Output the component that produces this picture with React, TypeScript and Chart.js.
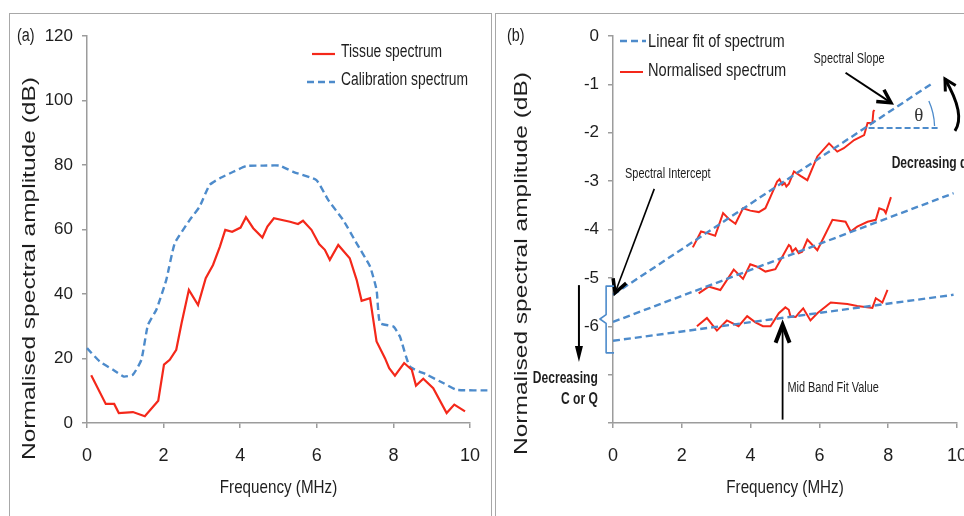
import React, { useEffect, useRef } from 'react';
import { Chart, registerables } from 'chart.js';
Chart.register(...registerables);

// ---------- data: panel (a) ----------
const tissueFreq = [0.11, 0.49, 0.71, 0.83, 1.2, 1.51, 1.86, 2.01, 2.16, 2.33, 2.47, 2.66, 2.9, 3.1, 3.29, 3.47, 3.61, 3.79, 4.01, 4.15, 4.34, 4.58, 4.71, 4.88, 5.3, 5.51, 5.64, 5.86, 6.06, 6.21, 6.34, 6.56, 6.86, 7.04, 7.17, 7.39, 7.56, 7.78, 7.89, 8.04, 8.28, 8.48, 8.59, 8.78, 9.04, 9.39, 9.59, 9.87];
const tissueAmp = [14.8, 5.9, 5.9, 3.1, 3.4, 2.1, 6.9, 18.1, 19.6, 22.7, 31, 41.3, 36.6, 44.9, 49, 54.7, 59.9, 59.3, 60.6, 63.8, 60.4, 57.5, 60.9, 63.5, 62.4, 61.7, 62.7, 59.9, 55.5, 53.7, 50.6, 55.2, 51.1, 44.4, 37.9, 38.7, 25.3, 20.1, 17, 14.7, 18.6, 16.5, 11.6, 13.7, 10.8, 3.1, 5.7, 3.6];
const calibFreq = [0, 0.33, 0.68, 0.96, 1.2, 1.42, 1.59, 1.81, 2.07, 2.29, 2.68, 2.94, 3.2, 3.47, 3.82, 4.16, 4.6, 5.03, 5.38, 5.99, 6.3, 6.69, 7.04, 7.39, 7.56, 7.65, 8.0, 8.17, 8.43, 8.87, 9.3, 9.65, 10.52];
const calibAmp = [23.2, 19.1, 16.5, 14.4, 15, 19.6, 30.4, 35.1, 44.4, 55.7, 62.9, 67.1, 73.8, 75.9, 77.9, 79.7, 79.8, 79.8, 77.9, 75.3, 69.1, 62.9, 55.7, 48.5, 41.3, 31, 29.9, 26.8, 17.5, 15, 12.4, 10.3, 10.1];
const leftXTicks = { min: 0, max: 10, step: 2 };
const leftYTicks = { min: 0, max: 120, step: 20 };

// ---------- data: panel (b) ----------
const topFreq = [2.32, 2.56, 2.76, 2.97, 3.2, 3.38, 3.56, 3.78, 3.99, 4.24, 4.43, 4.58, 4.77, 4.84, 4.92, 4.99, 5.04, 5.11, 5.26, 5.45, 5.65, 5.94, 6.28, 6.52, 6.71, 7.01, 7.3, 7.4, 7.54, 7.57, 7.6];
const topVal = [-4.37, -4.04, -4.08, -4.13, -3.66, -3.79, -3.88, -3.56, -3.61, -3.64, -3.56, -3.32, -3.01, -2.96, -3.08, -3.04, -3.11, -3.06, -2.8, -2.89, -2.98, -2.49, -2.22, -2.39, -2.32, -2.15, -2.05, -1.8, -1.8, -1.56, -1.53];
const midFreq = [2.49, 2.78, 2.92, 3.12, 3.51, 3.78, 3.99, 4.19, 4.43, 4.72, 4.87, 5.11, 5.16, 5.21, 5.31, 5.4, 5.5, 5.65, 5.94, 6.38, 6.76, 6.91, 7.1, 7.4, 7.64, 7.74, 7.88, 7.93, 8.08];
const midVal = [-5.32, -5.18, -5.21, -5.25, -4.83, -5.02, -4.72, -4.77, -4.87, -4.82, -4.63, -4.32, -4.35, -4.46, -4.39, -4.49, -4.46, -4.21, -4.43, -3.8, -3.84, -4.04, -3.94, -3.84, -3.8, -3.56, -3.6, -3.66, -3.33];
const botFreq = [2.44, 2.73, 3.02, 3.31, 3.65, 3.9, 4.14, 4.36, 4.58, 4.82, 5.01, 5.11, 5.16, 5.31, 5.4, 5.53, 5.74, 5.94, 6.33, 6.81, 7.1, 7.54, 7.64, 7.83, 7.98];
const botVal = [-6, -5.83, -6.09, -5.88, -6, -5.79, -5.92, -6, -6, -5.73, -5.61, -5.66, -5.8, -5.81, -5.73, -5.63, -5.88, -5.73, -5.51, -5.54, -5.58, -5.62, -5.42, -5.51, -5.25];
const fitStartFreq = [0, 0, 0];
const fitStartVal = [-5.35, -5.91, -6.3];
const fitEndFreq = [9.3, 9.9, 9.9];
const fitEndVal = [-0.97, -3.25, -5.35];
const slopeRefFreq = [7.43, 9.48];
const slopeRefVal = [-1.9, -1.9];
const rightXTicks = { min: 0, max: 10, step: 2 };
const rightYTicks = { min: -8, max: 0, step: 1, lowestLabel: -6 };

// ---------- styles ----------
const SANS = "'Liberation Sans', Arial, sans-serif";
const NX = 0.8; // horizontal squeeze that imitates a narrow face
const RED = '#F4281A';
const BLUE = '#4D8BCB';
const AXIS = '#9C9C9C';
const INK = '#1E1E1E';
const DASH = [7, 4];

const pts = (xs: number[], ys: number[]) => xs.map((x, i) => ({ x, y: ys[i] }));

function drawText(ctx: CanvasRenderingContext2D, s: string, x: number, y: number, font: string, align: CanvasTextAlign = 'left', color = INK, sx = NX) {
  ctx.save();
  ctx.font = font;
  ctx.textAlign = align;
  ctx.textBaseline = 'middle';
  ctx.fillStyle = color;
  ctx.translate(x, y);
  ctx.scale(sx, 1);
  ctx.fillText(s, 0, 0);
  ctx.restore();
}

function drawVerticalTitle(ctx: CanvasRenderingContext2D, s: string, cx: number, cy: number, font: string, length: number) {
  ctx.save();
  ctx.font = font;
  const w = ctx.measureText(s).width;
  ctx.translate(cx, cy);
  ctx.rotate(-Math.PI / 2);
  ctx.scale(length / w, 1);
  ctx.textAlign = 'center';
  ctx.textBaseline = 'middle';
  ctx.fillStyle = INK;
  ctx.fillText(s, 0, 0);
  ctx.restore();
}

function arrowHead(ctx: CanvasRenderingContext2D, tx: number, ty: number, ang: number, len: number, half: number, lw: number, filled: boolean) {
  const bx = tx - len * Math.cos(ang);
  const by = ty - len * Math.sin(ang);
  const nx = -Math.sin(ang) * half;
  const ny = Math.cos(ang) * half;
  ctx.beginPath();
  ctx.moveTo(bx + nx, by + ny);
  ctx.lineTo(tx, ty);
  ctx.lineTo(bx - nx, by - ny);
  if (filled) {
    ctx.closePath();
    ctx.fillStyle = '#000';
    ctx.fill();
  } else {
    ctx.lineWidth = lw;
    ctx.lineJoin = 'miter';
    ctx.lineCap = 'butt';
    ctx.strokeStyle = '#000';
    ctx.stroke();
  }
}

function arrow(ctx: CanvasRenderingContext2D, x1: number, y1: number, x2: number, y2: number, lw: number, len: number, half: number, headLw: number, filled = false) {
  const ang = Math.atan2(y2 - y1, x2 - x1);
  ctx.beginPath();
  ctx.moveTo(x1, y1);
  const stop = filled ? len * 0.8 : 1;
  ctx.lineTo(x2 - stop * Math.cos(ang), y2 - stop * Math.sin(ang));
  ctx.lineWidth = lw;
  ctx.strokeStyle = '#000';
  ctx.lineCap = 'butt';
  ctx.stroke();
  arrowHead(ctx, x2, y2, ang, len, half, headLw, filled);
}

function drawLegendItem(ctx: CanvasRenderingContext2D, ds: any, x1: number, x2: number, y: number, tx: number, ty: number, font: string) {
  ctx.save();
  ctx.beginPath();
  ctx.moveTo(x1, y);
  ctx.lineTo(x2, y);
  ctx.strokeStyle = ds.borderColor;
  ctx.lineWidth = ds.borderWidth;
  ctx.setLineDash(ds.borderDash || []);
  ctx.stroke();
  ctx.restore();
  drawText(ctx, ds.label, tx, ty, font, 'left', INK, 0.77);
}

const leftDecor = {
  id: 'leftDecor',
  afterDraw(chart: any) {
    const { ctx, chartArea: a } = chart;
    const ds = chart.data.datasets;
    ctx.save();
    drawText(ctx, '(a)', 7, a.top, `18px ${SANS}`);
    drawVerticalTitle(ctx, 'Normalised spectral amplitude (dB)', a.left - 57, (a.top + a.bottom) / 2 + 39, `18px ${SANS}`, 383);
    drawText(ctx, 'Frequency (MHz)', (a.left + a.right) / 2, a.bottom + 65, `19px ${SANS}`, 'center');
    drawLegendItem(ctx, ds[0], a.right - 158, a.right - 135, a.top + 18, a.right - 129, a.top + 16, `18px ${SANS}`);
    drawLegendItem(ctx, ds[1], a.right - 163, a.right - 135, a.top + 46, a.right - 129, a.top + 44, `18px ${SANS}`);
    ctx.restore();
  },
};

const rightDecor = {
  id: 'rightDecor',
  afterDraw(chart: any) {
    const { ctx, chartArea: a, scales } = chart;
    const X = (v: number) => scales.x.getPixelForValue(v);
    const Y = (v: number) => scales.y.getPixelForValue(v);
    const ds = chart.data.datasets;
    const fitDs = ds.find((d: any) => d.label === 'Linear fit of spectrum');
    const redDs = ds.find((d: any) => d.label === 'Normalised spectrum');
    ctx.save();
    drawText(ctx, '(b)', 11, a.top, `18px ${SANS}`);
    drawVerticalTitle(ctx, 'Normalised spectral amplitude (dB)', a.left - 91, (a.top + a.bottom) / 2 + 34, `18px ${SANS}`, 383);
    drawText(ctx, 'Frequency (MHz)', (a.left + a.right) / 2, a.bottom + 65, `19px ${SANS}`, 'center');
    drawLegendItem(ctx, fitDs, a.left + 7, a.left + 33, a.top + 5, a.left + 35, a.top + 6, `19px ${SANS}`);
    drawLegendItem(ctx, redDs, a.left + 7, a.left + 30, a.top + 36, a.left + 35, a.top + 35, `19px ${SANS}`);

    // Spectral slope
    drawText(ctx, 'Spectral Slope', X(5.83), Y(-0.48), `14px ${SANS}`, 'left', INK, 0.78);
    arrow(ctx, X(6.76), Y(-0.76), X(8.08), Y(-1.38), 2, 13, 7, 3.5);
    // theta arc
    ctx.beginPath();
    ctx.arc(X(slopeRefFreq[0]), Y(slopeRefVal[0]), 66, -0.42, -0.03, false);
    ctx.strokeStyle = BLUE;
    ctx.lineWidth = 1.3;
    ctx.stroke();
    drawText(ctx, 'θ', X(8.89), Y(-1.65), `19px 'Liberation Serif', serif`, 'center', '#333', 1);
    // curved arrow
    const p0 = [X(9.94), Y(-1.96)];
    const c = [X(10.26), Y(-1.63)];
    const p2 = [X(9.65), Y(-0.89)];
    ctx.beginPath();
    ctx.moveTo(p0[0], p0[1]);
    ctx.quadraticCurveTo(c[0], c[1], p2[0], p2[1]);
    ctx.strokeStyle = '#000';
    ctx.lineWidth = 3;
    ctx.stroke();
    arrowHead(ctx, p2[0], p2[1], Math.atan2(p2[1] - c[1], p2[0] - c[0]), 11, 6, 3, false);
    drawText(ctx, 'Decreasing d', X(8.1), Y(-2.64), `bold 17px ${SANS}`, 'left', INK, 0.71);

    // Spectral intercept
    drawText(ctx, 'Spectral Intercept', X(0.35), Y(-2.85), `14px ${SANS}`, 'left', INK, 0.78);
    arrow(ctx, X(1.2), Y(-3.16), X(0.06), Y(-5.31), 1.6, 13, 7, 3.5);
    // bracket
    ctx.beginPath();
    ctx.moveTo(X(0.03), Y(-5.17));
    ctx.lineTo(X(-0.2), Y(-5.17));
    ctx.lineTo(X(-0.2), Y(-5.76));
    ctx.lineTo(X(-0.38), Y(-5.85));
    ctx.lineTo(X(-0.2), Y(-5.94));
    ctx.lineTo(X(-0.2), Y(-6.55));
    ctx.lineTo(X(0.03), Y(-6.55));
    ctx.strokeStyle = BLUE;
    ctx.lineWidth = 1.6;
    ctx.lineJoin = 'round';
    ctx.stroke();
    // decreasing C or Q
    arrow(ctx, X(-0.99), Y(-5.15), X(-0.99), Y(-6.74), 2, 16, 4, 1, true);
    drawText(ctx, 'Decreasing', X(-0.44), Y(-7.07), `bold 17px ${SANS}`, 'right', INK, 0.71);
    drawText(ctx, 'C or Q', X(-0.44), Y(-7.52), `bold 17px ${SANS}`, 'right', INK, 0.71);

    // Mid band fit
    arrow(ctx, X(4.93), Y(-7.93), X(4.93), Y(-5.97), 1.8, 18, 7, 4);
    drawText(ctx, 'Mid Band Fit Value', X(5.07), Y(-7.27), `14px ${SANS}`, 'left', INK, 0.78);
    ctx.restore();
  },
};

function axis(fontSize: number, pad: number, fixed: (s: any) => void, range: { min: number; max: number; step: number }, extraTicks: any = {}) {
  return {
    type: 'linear' as const,
    min: range.min,
    max: range.max,
    grid: { display: true, drawOnChartArea: false, drawTicks: true, tickLength: 5, color: AXIS, lineWidth: 1.5 },
    border: { display: true, color: AXIS, width: 1.5 },
    ticks: { font: { family: SANS, size: fontSize }, color: INK, padding: pad, stepSize: range.step, ...extraTicks },
    afterFit: fixed,
  };
}

const fixX = (s: any) => { s.height = 93; s.paddingLeft = 0; s.paddingRight = 0; };

export default function App() {
  const leftRef = useRef<HTMLCanvasElement>(null);
  const rightRef = useRef<HTMLCanvasElement>(null);

  useEffect(() => {
    const left = new Chart(leftRef.current!, {
      type: 'line',
      data: {
        datasets: [
          { label: 'Tissue spectrum', data: pts(tissueFreq, tissueAmp), borderColor: RED, borderWidth: 2.2, pointRadius: 0, tension: 0 },
          { label: 'Calibration spectrum', data: pts(calibFreq, calibAmp), borderColor: BLUE, borderWidth: 2.4, borderDash: DASH, pointRadius: 0, tension: 0.15, clip: false },
        ],
      },
      options: {
        animation: false,
        responsive: false,
        layout: { padding: { left: 0, top: 22, right: 21, bottom: 0 } },
        plugins: { legend: { display: false }, tooltip: { enabled: false } },
        scales: {
          x: axis(18, 17, fixX, leftXTicks),
          y: axis(17, 9, (s: any) => { s.width = 77; }, leftYTicks),
        },
      } as any,
      plugins: [leftDecor],
    });

    const fitSets = fitStartFreq.map((_, i) => ({
      label: i === 0 ? 'Linear fit of spectrum' : '',
      data: pts([fitStartFreq[i], fitEndFreq[i]], [fitStartVal[i], fitEndVal[i]]),
      borderColor: BLUE, borderWidth: 2.4, borderDash: DASH, pointRadius: 0, clip: false,
    }));
    const redSets = [pts(topFreq, topVal), pts(midFreq, midVal), pts(botFreq, botVal)].map((d, i) => ({
      label: i === 0 ? 'Normalised spectrum' : '',
      data: d, borderColor: RED, borderWidth: 2, pointRadius: 0, tension: 0,
    }));
    const right = new Chart(rightRef.current!, {
      type: 'line',
      data: {
        datasets: [
          ...fitSets,
          ...redSets,
          { label: '', data: pts(slopeRefFreq, slopeRefVal), borderColor: BLUE, borderWidth: 2, borderDash: [6, 3], pointRadius: 0 },
        ],
      },
      options: {
        animation: false,
        responsive: false,
        layout: { padding: { left: 0, top: 22, right: 19, bottom: 0 } },
        plugins: { legend: { display: false }, tooltip: { enabled: false } },
        scales: {
          x: axis(18, 17, fixX, rightXTicks),
          y: axis(17, 9, (s: any) => { s.width = 117; }, rightYTicks, {
            callback: (v: any) => (v >= rightYTicks.lowestLabel ? String(v) : ''),
          }),
        },
      } as any,
      plugins: [rightDecor],
    });

    return () => { left.destroy(); right.destroy(); };
  }, []);

  return (
    <div style={{ position: 'fixed', left: 0, top: 0, width: 964, height: 516, overflow: 'hidden', background: '#fff' }}>
      <div style={{ position: 'absolute', left: 9, top: 13, width: 481, height: 520, border: '1.5px solid #A8A8A8' }} />
      <div style={{ position: 'absolute', left: 495, top: 13, width: 500, height: 520, border: '1.5px solid #A8A8A8' }} />
      <canvas ref={leftRef} width={481} height={502} style={{ position: 'absolute', left: 10, top: 14, width: 481, height: 502 }} />
      <canvas ref={rightRef} width={480} height={502} style={{ position: 'absolute', left: 496, top: 14, width: 480, height: 502 }} />
    </div>
  );
}
